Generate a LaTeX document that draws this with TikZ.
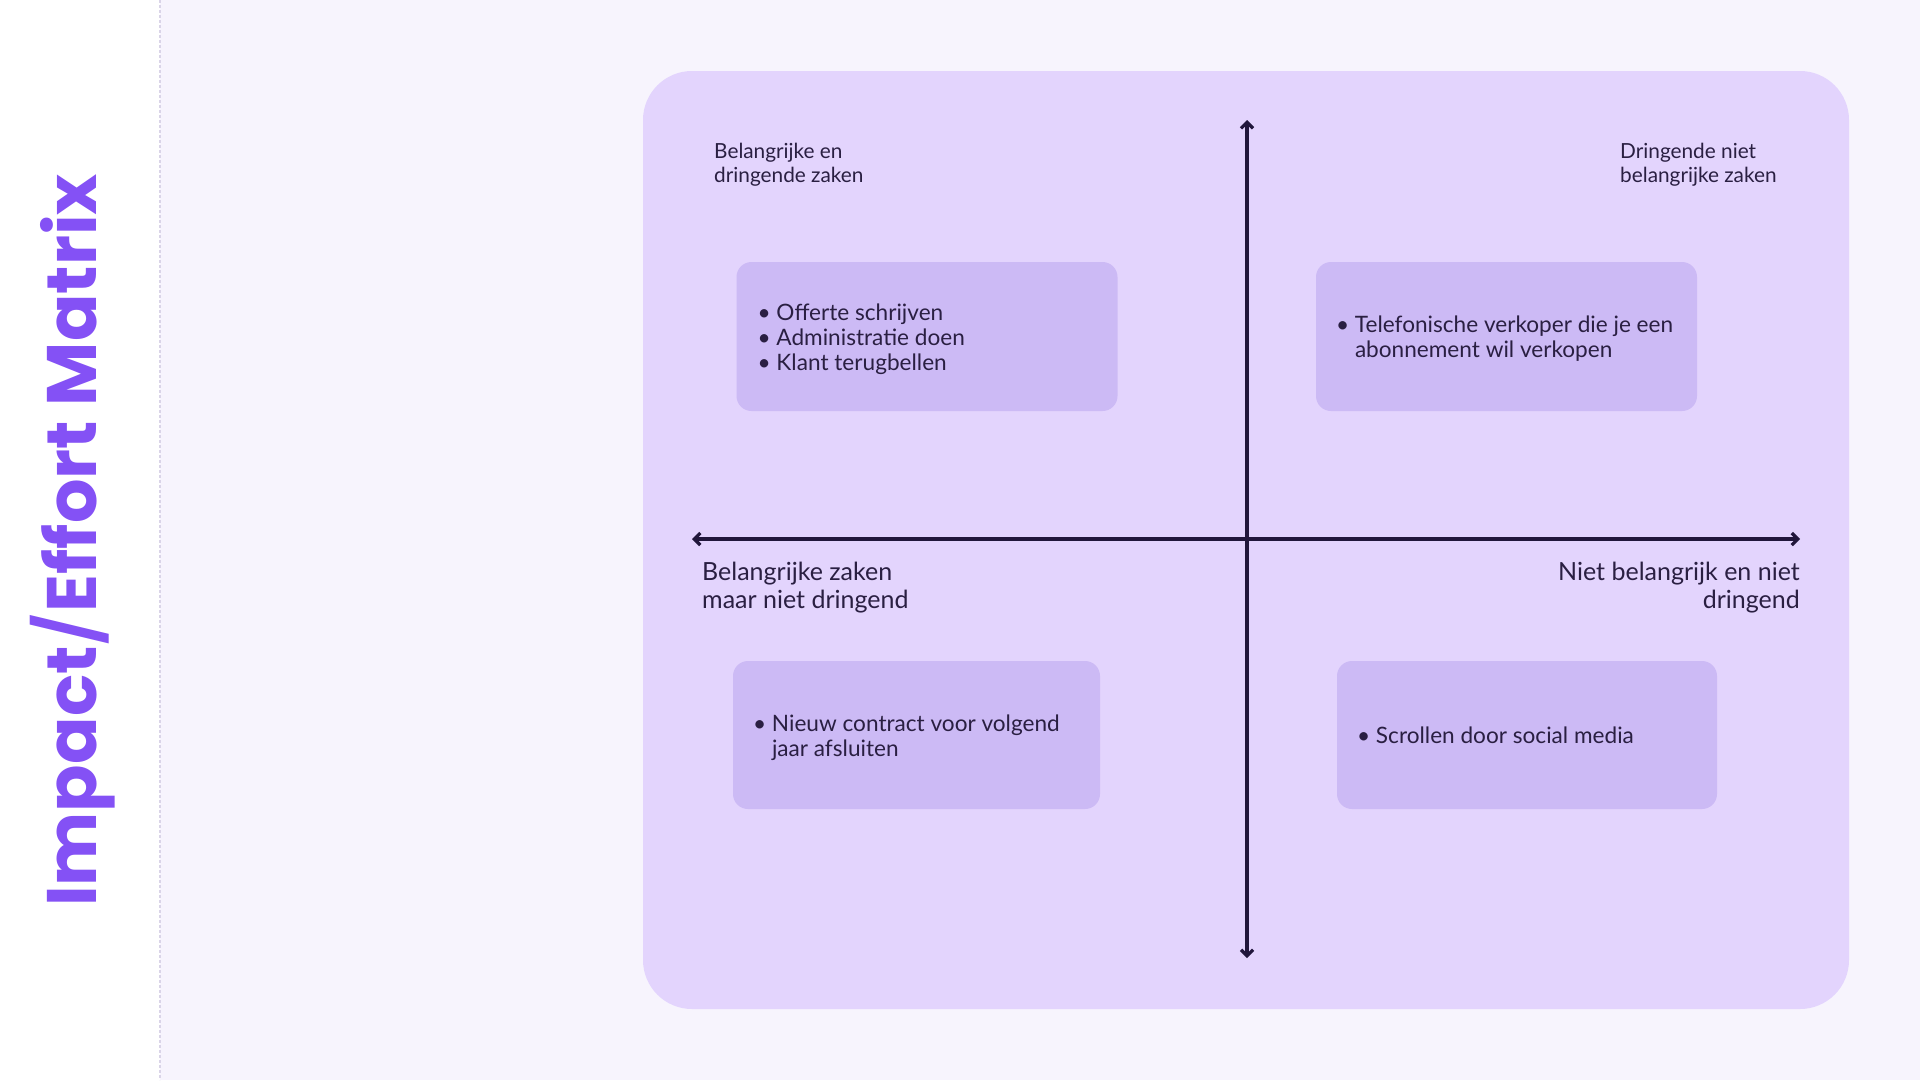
\documentclass[tikz,border=0pt]{standalone}
\usepackage{fontspec}
\setmainfont{Lato}
\newfontfamily\titlefont{Poppins}
\newfontfamily\titlethin{Poppins Light}
\usetikzlibrary{arrows.meta}
\definecolor{bgpage}{HTML}{F7F4FD}
\definecolor{panelc}{HTML}{E3D4FD}
\definecolor{boxc}{HTML}{CCBAF5}
\definecolor{inkc}{HTML}{2A1F42}
\definecolor{axisc}{HTML}{21163B}
\definecolor{titlec}{HTML}{8451F5}
\definecolor{divc}{HTML}{DAD4E8}
\newcommand{\bitem}{\makebox[19pt][l]{\textbullet}}
\begin{document}
\begin{tikzpicture}[x=1pt,y=-1pt,
  qbox/.style={fill=boxc, rounded corners=15pt, inner sep=0pt, minimum width=381pt, minimum height=149pt},
  btext/.style={anchor=west, inner sep=0pt, text=inkc, align=left, font=\fontsize{22.6}{25}\selectfont},
  smalllbl/.style={inner sep=0pt, text=inkc, font=\fontsize{20.8}{24.5}\selectfont},
  midlbl/.style={inner sep=0pt, text=inkc, font=\fontsize{25}{28}\selectfont},
  axisline/.style={draw=axisc, line width=3.2pt, {Straight Barb[length=6pt,width=12pt]}-{Straight Barb[length=6pt,width=12pt]}}
]
\useasboundingbox (0,0) rectangle (1920,1080);
% backgrounds
\fill[white] (0,0) rectangle (160,1080);
\fill[bgpage] (160,0) rectangle (1920,1080);
\draw[divc, line width=1.2pt, dash pattern=on 3pt off 2pt] (160,0) -- (160,1080);
% title
\node[anchor=base west, rotate=90, inner sep=0pt, text=titlec,
      font=\titlefont\fontsize{70}{70}\selectfont] (title) at (96,907)
      {\bfseries Impact{\titlethin/}Effort Matrix};
% panel
\node[fill=panelc, rounded corners=49pt, inner sep=0pt, minimum width=1206pt, minimum height=938pt] (panel) at (1246,540) {};
% axes
\coordinate (vtop) at (1247,120);
\coordinate (vbot) at (1247,958);
\coordinate (hl) at (692,539);
\coordinate (hr) at (1800,539);
\draw[axisline] (vbot) -- (vtop);
\draw[axisline] (hl) -- (hr);
% quadrant labels
\node[smalllbl, anchor=base west] (lbltl) at (714,158)
  {\begin{tabular}[t]{@{}l@{}}Belangrijke en\\dringende zaken\end{tabular}};
\node[smalllbl, anchor=base west] (lbltr) at (1620,158)
  {\begin{tabular}[t]{@{}l@{}}Dringende niet\\belangrijke zaken\end{tabular}};
\node[midlbl, anchor=base west] (lblbl) at (702,580)
  {\begin{tabular}[t]{@{}l@{}}Belangrijke zaken\\maar niet dringend\end{tabular}};
\node[midlbl, anchor=base east] (lblbr) at (1800,580)
  {\begin{tabular}[t]{@{}r@{}}Niet belangrijk en niet\\dringend\end{tabular}};
% boxes
\node[qbox] (btl) at (927,336.5) {};
\node[qbox] (btr) at (1506.5,336.5) {};
\node[qbox, minimum width=367pt, minimum height=148pt] (bbl) at (916.5,735) {};
\node[qbox, minimum width=380pt, minimum height=148pt] (bbr) at (1527,735) {};
% box texts
\node[btext] (ttl) at ([xshift=21pt,yshift=-3.5pt]btl.west)
  {\begin{tabular}{@{}l@{}l@{}}\bitem&Offerte schrijven\\\bitem&Administratie doen\\\bitem&Klant terugbellen\end{tabular}};
\node[btext] (ttr) at ([xshift=20pt,yshift=-3pt]btr.west)
  {\begin{tabular}{@{}l@{}l@{}}\bitem&Telefonische verkoper die je een\\&abonnement wil verkopen\end{tabular}};
\node[btext] (tbl) at ([xshift=20pt,yshift=-3.5pt]bbl.west)
  {\begin{tabular}{@{}l@{}l@{}}\bitem&Nieuw contract voor volgend\\&jaar afsluiten\end{tabular}};
\node[btext] (tbr) at ([xshift=20pt,yshift=-3.5pt]bbr.west)
  {\begin{tabular}{@{}l@{}l@{}}\bitem&Scrollen door social media\end{tabular}};
\end{tikzpicture}
\end{document}
